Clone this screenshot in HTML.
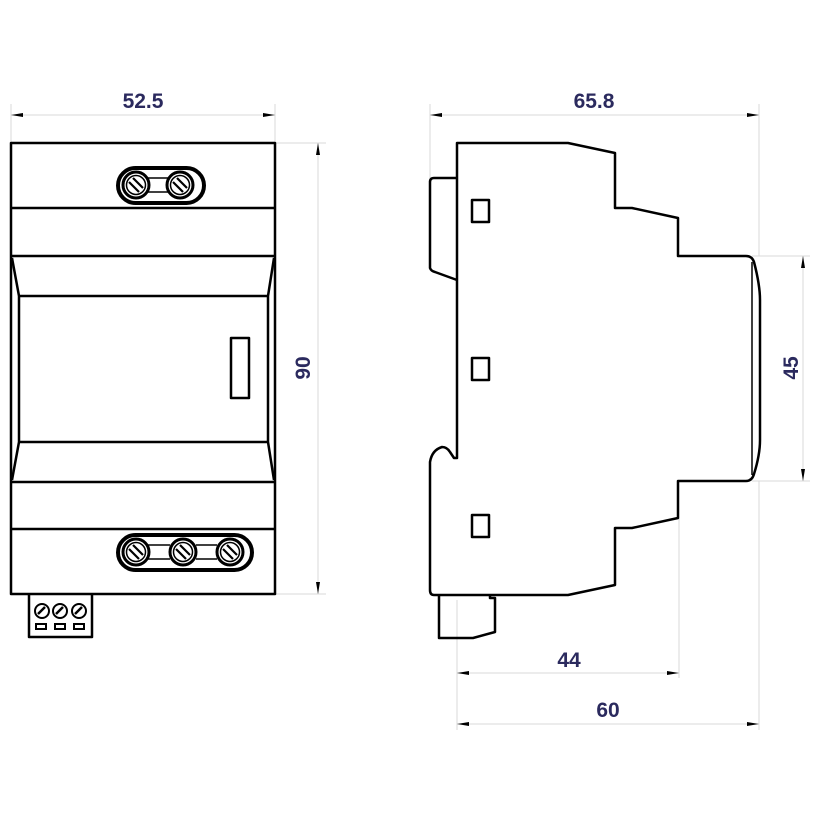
<!DOCTYPE html>
<html><head><meta charset="utf-8"><style>html,body{margin:0;padding:0;background:#fff}svg{display:block}</style></head><body>
<svg width="820" height="820" viewBox="0 0 820 820" xmlns="http://www.w3.org/2000/svg">
<defs>
<g id="scr"><circle r="13" fill="#fff" stroke="#000" stroke-width="3"/><circle r="9.5" fill="none" stroke="#000" stroke-width="1.5"/><line x1="-7" y1="-3" x2="3" y2="7" stroke="#000" stroke-width="2.2"/><line x1="-3" y1="-7" x2="7" y2="3" stroke="#000" stroke-width="2.2"/></g>
<g id="ss"><circle r="7" fill="#fff" stroke="#000" stroke-width="2"/><line x1="-4" y1="3" x2="3" y2="-4" stroke="#000" stroke-width="2.5"/></g>
</defs>
<g fill="none" stroke="#d8d8d8" stroke-width="1">
<line x1="11" y1="104" x2="11" y2="143"/><line x1="275" y1="104" x2="275" y2="143"/>
<line x1="275" y1="143" x2="326" y2="143"/><line x1="275" y1="594" x2="326" y2="594"/>
<line x1="430" y1="104" x2="430" y2="178"/><line x1="759" y1="104" x2="759" y2="256"/>
<line x1="752" y1="256" x2="810" y2="256"/><line x1="752" y1="481" x2="810" y2="481"/>
<line x1="457" y1="600" x2="457" y2="730"/><line x1="679" y1="518" x2="679" y2="678"/><line x1="759" y1="481" x2="759" y2="730"/>
</g>
<g stroke="#d8d8d8" stroke-width="1">
<line x1="11" y1="115" x2="275" y2="115"/><line x1="318" y1="143" x2="318" y2="594"/>
<line x1="430" y1="115" x2="759" y2="115"/><line x1="803" y1="256" x2="803" y2="481"/>
<line x1="457" y1="673" x2="679" y2="673"/><line x1="457" y1="724" x2="759" y2="724"/>
</g>
<g fill="#000">
<polygon points="11,115 23,113 23,117"/><polygon points="275,115 263,113 263,117"/>
<polygon points="318,143 316,155 320,155"/><polygon points="318,594 316,582 320,582"/>
<polygon points="430,115 442,113 442,117"/><polygon points="759,115 747,113 747,117"/>
<polygon points="803,256 801,268 805,268"/><polygon points="803,481 801,469 805,469"/>
<polygon points="457,673 469,671 469,675"/><polygon points="679,673 667,671 667,675"/>
<polygon points="457,724 469,722 469,726"/><polygon points="759,724 747,722 747,726"/>
</g>
<g font-family="Liberation Sans, sans-serif" font-weight="bold" font-size="21" fill="#2b2a5e" text-anchor="middle">
<text x="143" y="108">52.5</text>
<text x="594" y="108">65.8</text>
<text x="569" y="667">44</text>
<text x="608" y="717">60</text>
<text transform="translate(310,368) rotate(-90)">90</text>
<text transform="translate(798,368) rotate(-90)">45</text>
</g>
<g fill="none" stroke="#000" stroke-width="2.5" stroke-linejoin="round">
<rect x="11" y="143" width="264" height="451"/>
<line x1="11" y1="208" x2="275" y2="208"/>
<line x1="11" y1="256" x2="275" y2="256"/>
<line x1="19" y1="296" x2="268" y2="296"/>
<line x1="19" y1="442" x2="268" y2="442"/>
<line x1="11" y1="482" x2="275" y2="482"/>
<line x1="11" y1="529" x2="275" y2="529"/>
<polyline points="12,258 19,296 19,442 12,480"/>
<polyline points="274,258 268,296 268,442 274,480"/>
<rect x="231" y="338" width="18" height="60"/>
<rect x="118" y="168" width="86" height="35" rx="17.5" stroke-width="4"/>
<rect x="118" y="535" width="134" height="35" rx="17.5" stroke-width="4"/>
<polyline points="29,594 29,637 92,637 92,594"/>
</g>
<g stroke="#000" stroke-width="1.5" fill="none">
<line x1="148" y1="178" x2="168" y2="178"/><line x1="148" y1="192" x2="168" y2="192"/>
<line x1="148" y1="545" x2="170" y2="545"/><line x1="148" y1="559" x2="170" y2="559"/>
<line x1="196" y1="545" x2="217" y2="545"/><line x1="196" y1="559" x2="217" y2="559"/>
</g>
<use href="#scr" x="136" y="185"/><use href="#scr" x="180" y="185"/>
<use href="#scr" x="136" y="552"/><use href="#scr" x="183" y="552"/><use href="#scr" x="230" y="552"/>
<use href="#ss" x="42" y="611"/><use href="#ss" x="60" y="611"/><use href="#ss" x="79" y="611"/>
<g fill="#fff" stroke="#000" stroke-width="2"><rect x="36" y="624" width="10" height="5"/><rect x="55" y="624" width="10" height="5"/><rect x="74" y="624" width="10" height="5"/></g>
<g fill="none" stroke="#000" stroke-width="2.5" stroke-linejoin="round">
<path d="M457,280 L457,143 L568,143 L615,153 L615,208 L632,208 L678,218 L678,256 L746,256 Q752,256 754,262 Q760,285 760,300 L760,440 Q760,455 754,474 Q752,481 746,481 L678,481 L678,518 L632,528 L615,528 L615,585 L568,595 L434,595 Q430,595 430,590 L430,462 Q432,450 442,447 Q447,447 450,452 L454,458 L457,458 L457,280"/>
<path d="M457,178 L434,178 Q430,178 430,182 L430,268 Q431,271 435,272 L457,280"/>
<line x1="752" y1="262" x2="752" y2="475" stroke-width="1.5"/>
<path d="M439,595 L439,638 L473,638 L495,632 L495,598 L490,598 L490,595"/>
<rect x="472" y="200" width="17" height="22"/>
<rect x="472" y="358" width="17" height="22"/>
<rect x="472" y="515" width="17" height="22"/>
</g>
</svg>
</body></html>
